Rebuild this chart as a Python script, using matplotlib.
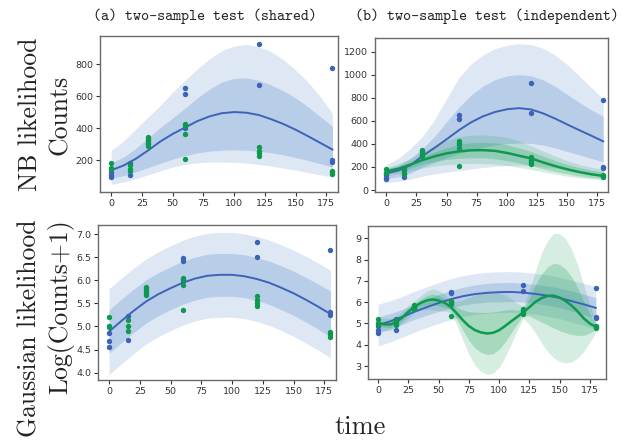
import numpy as np
import matplotlib
matplotlib.use("Agg")
import matplotlib.pyplot as plt

# ---------------------------------------------------------------- data
# raw counts per replicate, two conditions sampled at the same time points
time_a = [0, 0, 0, 15, 15, 30, 30, 60, 60, 60, 120, 120, 180, 180, 180]
counts_a = [95, 108, 128, 110, 185, 310, 335, 650, 612, 400, 925, 668, 780, 204, 190]
time_b = [0, 0, 0, 15, 15, 15, 30, 30, 30, 30, 60, 60, 60, 60,
          120, 120, 120, 120, 180, 180, 180]
counts_b = [183, 150, 145, 170, 148, 135, 345, 325, 302, 292, 428, 412, 365, 210,
            287, 260, 246, 229, 132, 125, 117]

# posterior summaries on a 10-minute grid
grid = [0, 10, 20, 30, 40, 50, 60, 70, 80, 90, 100, 110, 120, 130, 140, 150, 160, 170, 180]

# (a) shared NB model
nb_shared_mean = [138, 168, 210, 262, 318, 365, 405, 445, 475, 495, 502, 498, 484, 458, 428, 392, 352, 310, 268]
nb_shared_in_lo = [88, 105, 128, 155, 182, 208, 230, 247, 258, 264, 266, 264, 258, 248, 235, 218, 200, 180, 158]
nb_shared_in_hi = [185, 220, 275, 340, 405, 465, 525, 590, 645, 690, 712, 715, 700, 672, 635, 590, 535, 475, 412]
nb_shared_out_lo = [50, 65, 85, 110, 135, 158, 175, 185, 190, 190, 188, 183, 175, 165, 152, 140, 125, 110, 96]
nb_shared_out_hi = [262, 320, 395, 470, 545, 625, 700, 770, 835, 885, 915, 925, 910, 880, 830, 765, 690, 600, 495]

# (b) independent NB models
nb_a_mean = [145, 170, 215, 295, 365, 440, 517, 585, 638, 676, 700, 710, 699, 665, 620, 569, 520, 472, 422]
nb_a_in_lo = [100, 115, 145, 200, 240, 280, 315, 345, 370, 390, 402, 408, 405, 390, 365, 335, 305, 275, 245]
nb_a_in_hi = [185, 215, 275, 360, 465, 590, 715, 820, 900, 955, 990, 1000, 990, 955, 900, 830, 760, 695, 640]
nb_a_out_lo = [65, 75, 95, 120, 140, 155, 168, 182, 195, 205, 212, 215, 212, 202, 190, 175, 160, 145, 130]
nb_a_out_hi = [222, 275, 360, 465, 610, 790, 970, 1090, 1170, 1225, 1255, 1268, 1262, 1230, 1170, 1090, 990, 890, 790]

nb_b_mean = [162, 185, 220, 260, 292, 318, 335, 344, 346, 340, 322, 298, 275, 240, 208, 180, 156, 137, 122]
nb_b_in_lo = [140, 160, 190, 225, 248, 265, 275, 280, 280, 272, 255, 235, 212, 185, 160, 140, 122, 108, 98]
nb_b_in_hi = [180, 205, 245, 290, 330, 365, 395, 410, 415, 410, 392, 365, 335, 295, 255, 222, 195, 172, 155]
nb_b_out_lo = [125, 142, 165, 190, 208, 220, 226, 230, 230, 224, 212, 196, 178, 158, 138, 120, 106, 96, 88]
nb_b_out_hi = [198, 228, 272, 330, 385, 430, 462, 475, 478, 472, 455, 425, 385, 340, 295, 255, 222, 198, 180]

# (a) shared Gaussian model on log(counts+1)
g_shared_mean = [4.89, 5.12, 5.34, 5.54, 5.70, 5.83, 5.95, 6.04, 6.10, 6.12, 6.12, 6.09, 6.03, 5.95, 5.84, 5.72, 5.58, 5.43, 5.27]
g_shared_in = [0.47, 0.47, 0.47, 0.47, 0.466, 0.465, 0.465, 0.465, 0.465, 0.465, 0.465, 0.465, 0.465, 0.47, 0.475, 0.48, 0.485, 0.49, 0.50]
g_shared_out = [0.93, 0.93, 0.925, 0.92, 0.92, 0.92, 0.92, 0.92, 0.92, 0.92, 0.92, 0.92, 0.92, 0.925, 0.93, 0.935, 0.94, 0.945, 0.95]

# (b) independent Gaussian models
g_a_mean = [4.92, 5.10, 5.31, 5.55, 5.76, 5.96, 6.14, 6.28, 6.38, 6.44, 6.47, 6.48, 6.45, 6.39, 6.31, 6.20, 6.05, 5.90, 5.73]
g_a_in = [0.38, 0.36, 0.35, 0.36, 0.38, 0.40, 0.41, 0.42, 0.43, 0.44, 0.45, 0.45, 0.44, 0.44, 0.45, 0.46, 0.47, 0.48, 0.48]
g_a_out = [0.98, 0.97, 0.96, 0.96, 0.96, 0.96, 0.96, 0.96, 0.96, 0.96, 0.96, 0.96, 0.96, 0.96, 0.97, 0.97, 0.98, 0.99, 1.0]

grid_fine = [0, 5, 10, 15, 20, 25, 30, 35, 40, 45, 50, 55, 60, 65, 70, 75, 80, 85, 90,
             95, 100, 105, 110, 115, 120, 125, 130, 135, 140, 145, 150, 155, 160, 165, 170, 175, 180]
g_b_mean = [5.0, 4.96, 4.95, 5.06, 5.28, 5.55, 5.78, 5.96, 6.08, 6.13, 6.08, 5.97, 5.78, 5.48, 5.16, 4.88, 4.69, 4.58, 4.53,
            4.56, 4.68, 4.88, 5.10, 5.31, 5.52, 5.76, 6.01, 6.19, 6.29, 6.31, 6.22, 6.06, 5.84, 5.56, 5.24, 5.0, 4.84]
g_b_in = [0.13, 0.14, 0.15, 0.13, 0.14, 0.15, 0.13, 0.17, 0.22, 0.25, 0.24, 0.20, 0.14, 0.28, 0.48, 0.68, 0.84, 0.94, 0.99,
          0.98, 0.90, 0.75, 0.55, 0.32, 0.14, 0.42, 0.80, 1.12, 1.36, 1.52, 1.56, 1.50, 1.36, 1.12, 0.80, 0.45, 0.14]
g_b_out = [0.27, 0.28, 0.29, 0.27, 0.28, 0.29, 0.27, 0.33, 0.43, 0.50, 0.48, 0.40, 0.28, 0.55, 0.94, 1.33, 1.64, 1.83, 1.92,
           1.90, 1.75, 1.46, 1.07, 0.63, 0.28, 0.80, 1.45, 2.10, 2.60, 2.92, 3.0, 2.92, 2.65, 2.18, 1.56, 0.88, 0.28]

# ---------------------------------------------------------------- style
BLUE = "#3d63b8"
BLUE_FILL = "#4d80c6"
GREEN = "#0d9a4e"
GREEN_FILL = "#1da35a"
SERIF = "cmr10"
MONO = "cmtt10"

W, H = 626, 442
fig = plt.figure(figsize=(W / 100, H / 100), dpi=100)


def box(left, top, right, bottom):
    return [left / W, 1 - bottom / H, (right - left) / W, (bottom - top) / H]


def style(ax):
    for s in ax.spines.values():
        s.set_color("#6a6a6a")
        s.set_linewidth(1.0)
    ax.tick_params(length=3, width=0.8, color="#333333", labelsize=6.8,
                   labelcolor="#333333", pad=2)
    ax.set_xticks([0, 25, 50, 75, 100, 125, 150, 175])


def band(ax, x, lo, hi, color, alpha):
    ax.fill_between(x, lo, hi, color=color, alpha=alpha, lw=0)


def dots(ax, ta, ya, tb, yb):
    ax.scatter(ta, ya, s=15, color=BLUE, zorder=5, lw=0)
    ax.scatter(tb, yb, s=15, color=GREEN, zorder=6, lw=0)


g = np.array(grid)
gf = np.array(grid_fine)
log_a = np.log1p(counts_a)
log_b = np.log1p(counts_b)

# top left: shared NB
ax = fig.add_axes(box(100, 36, 338, 192))
band(ax, g, nb_shared_out_lo, nb_shared_out_hi, BLUE_FILL, 0.18)
band(ax, g, nb_shared_in_lo, nb_shared_in_hi, BLUE_FILL, 0.26)
ax.plot(g, nb_shared_mean, color=BLUE, lw=1.4)
dots(ax, time_a, counts_a, time_b, counts_b)
ax.set_xlim(-9, 184.5)
ax.set_ylim(3, 977)
ax.set_yticks([200, 400, 600, 800])
style(ax)

# top right: independent NB
ax = fig.add_axes(box(375, 38, 608, 192))
band(ax, g, nb_a_out_lo, nb_a_out_hi, BLUE_FILL, 0.18)
band(ax, g, nb_a_in_lo, nb_a_in_hi, BLUE_FILL, 0.26)
band(ax, g, nb_b_out_lo, nb_b_out_hi, GREEN_FILL, 0.18)
band(ax, g, nb_b_in_lo, nb_b_in_hi, GREEN_FILL, 0.26)
ax.plot(g, nb_a_mean, color=BLUE, lw=1.4)
ax.plot(g, nb_b_mean, color=GREEN, lw=1.8)
dots(ax, time_a, counts_a, time_b, counts_b)
ax.set_xlim(-9.4, 184)
ax.set_ylim(-17, 1318)
ax.set_yticks([0, 200, 400, 600, 800, 1000, 1200])
style(ax)

# bottom left: shared Gaussian
ax = fig.add_axes(box(98, 225, 336, 380))
m = np.array(g_shared_mean)
band(ax, g, m - np.array(g_shared_out), m + np.array(g_shared_out), BLUE_FILL, 0.18)
band(ax, g, m - np.array(g_shared_in), m + np.array(g_shared_in), BLUE_FILL, 0.26)
ax.plot(g, m, color=BLUE, lw=1.4)
dots(ax, time_a, log_a, time_b, log_b)
ax.set_xlim(-9, 184.5)
ax.set_ylim(3.84, 7.2)
ax.set_yticks([4.0, 4.5, 5.0, 5.5, 6.0, 6.5, 7.0])
ax.yaxis.set_major_formatter(matplotlib.ticker.FormatStrFormatter("%.1f"))
style(ax)

# bottom right: independent Gaussian
ax = fig.add_axes(box(368, 226, 606, 379))
ma = np.array(g_a_mean)
mb = np.array(g_b_mean)
band(ax, g, ma - np.array(g_a_out), ma + np.array(g_a_out), BLUE_FILL, 0.18)
band(ax, g, ma - np.array(g_a_in), ma + np.array(g_a_in), BLUE_FILL, 0.26)
band(ax, gf, mb - np.array(g_b_out), mb + np.array(g_b_out), GREEN_FILL, 0.18)
band(ax, gf, mb - np.array(g_b_in), mb + np.array(g_b_in), GREEN_FILL, 0.26)
ax.plot(g, ma, color=BLUE, lw=1.4)
ax.plot(gf, mb, color=GREEN, lw=1.8)
dots(ax, time_a, log_a, time_b, log_b)
ax.set_xlim(-8.3, 188.4)
ax.set_ylim(2.39, 9.58)
ax.set_yticks([3, 4, 5, 6, 7, 8, 9])
style(ax)

# ---------------------------------------------------------------- labels
def ftext(x, y, s, **kw):
    fig.text(x / W, 1 - y / H, s, ha="center", va="center", **kw)


ftext(205, 16, "(a) two-sample test (shared)", family=MONO, fontsize=11, color="#222222")
ftext(487, 16, "(b) two-sample test (independent)", family=MONO, fontsize=11, color="#222222")
ftext(30, 114, "NB likelihood", family=SERIF, fontsize=18.5, rotation=90, color="#222222")
ftext(30, 328, "Gaussian likelihood", family=SERIF, fontsize=18.5, rotation=90, color="#222222")
ftext(60, 115, "Counts", family=SERIF, fontsize=18.5, rotation=90, color="#222222")
ftext(61, 307, "Log(Counts+1)", family=SERIF, fontsize=18.5, rotation=90, color="#222222")
ftext(360, 427, "time", family=SERIF, fontsize=19, color="#222222")

fig.savefig("out.png", dpi=100)
